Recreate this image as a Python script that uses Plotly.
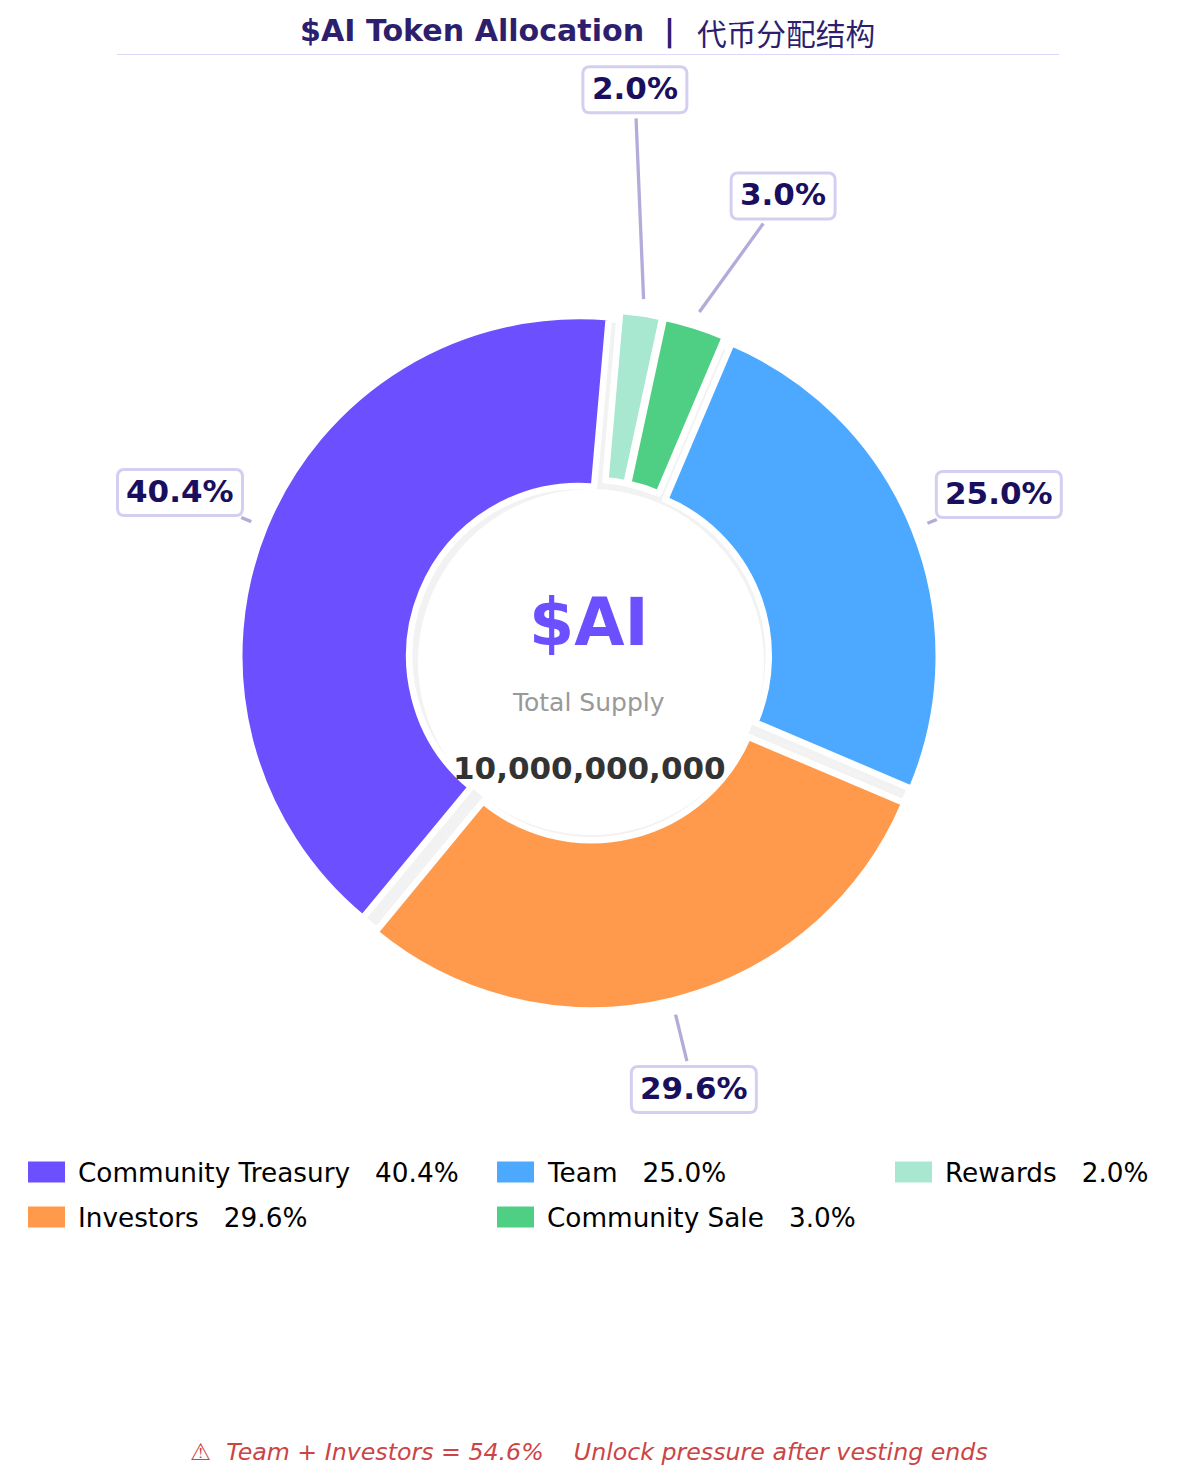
import math

import plotly.graph_objects as go

WIDTH = 1177
HEIGHT = 1483

categories = ["Community Treasury", "Investors", "Team", "Community Sale", "Rewards"]
shares = [40.4, 29.6, 25.0, 3.0, 2.0]
colors = ["#6C4FFF", "#FF9A4D", "#4DA9FF", "#4FCF83", "#A8E8D0"]
value_labels = ["40.4%", "29.6%", "25.0%", "3.0%", "2.0%"]

title_main = "$AI Token Allocation"
title_zh = "代币分配结构"
center_token = "$AI"
center_caption = "Total Supply"
center_supply = "10,000,000,000"
footer_note = "⚠  Team + Investors = 54.6%    Unlock pressure after vesting ends"

# pie geometry in pixels, the page is drawn with no margins
CX, CY = 589, 660
RADIUS = 340
EXPLODE = 0.031
START_ANGLE = 85
SHADOW_OFFSET = 2
# label distance and angle nudge per slice, small slices are pushed apart
LABEL_RADIUS = [442, 442, 442, 503, 572]
LABEL_SHIFT = [0, 0, 0, -5.1, 4.0]
# legend rows are filled column by column
LEGEND_X = [28, 28, 497, 497, 895]
LEGEND_Y = [1172, 1217, 1172, 1217, 1172]


def px(x):
    return x / WIDTH


def py(y):
    return 1 - y / HEIGHT


def pie_domain(cx, cy, radius, pull):
    half = radius * (1 + pull)
    return dict(x=[px(cx - half), px(cx + half)], y=[py(cy + half), py(cy - half)])


def text(x, y, label, size, color, bold=False, italic=False, family="DejaVu Sans"):
    return dict(
        x=px(x),
        y=py(y),
        xref="paper",
        yref="paper",
        text=label,
        showarrow=False,
        xanchor="center",
        yanchor="middle",
        font=dict(
            size=size,
            color=color,
            family=family,
            weight="bold" if bold else "normal",
            style="italic" if italic else "normal",
        ),
    )


def rounded_box(x0, y0, x1, y1, r):
    return (
        f"M {px(x0 + r)} {py(y0)} L {px(x1 - r)} {py(y0)} "
        f"Q {px(x1)} {py(y0)} {px(x1)} {py(y0 + r)} L {px(x1)} {py(y1 - r)} "
        f"Q {px(x1)} {py(y1)} {px(x1 - r)} {py(y1)} L {px(x0 + r)} {py(y1)} "
        f"Q {px(x0)} {py(y1)} {px(x0)} {py(y1 - r)} L {px(x0)} {py(y0 + r)} "
        f"Q {px(x0)} {py(y0)} {px(x0 + r)} {py(y0)} Z"
    )


total = sum(shares)
# plotly measures a counterclockwise pie from the far edge of the first slice
rotation = 90 - (START_ANGLE + shares[0] / total * 360)

fig = go.Figure()

# grey shadow ring sits under the exploded slices and shows in the gaps
fig.add_trace(
    go.Pie(
        values=shares,
        sort=False,
        direction="counterclockwise",
        rotation=rotation,
        hole=173 / RADIUS,
        domain=pie_domain(CX + SHADOW_OFFSET, CY + SHADOW_OFFSET, RADIUS, 0),
        marker=dict(colors=["#F2F2F2"] * 5, line=dict(width=0)),
        textinfo="none",
        hoverinfo="skip",
        showlegend=False,
    )
)
fig.add_trace(
    go.Pie(
        labels=categories,
        values=shares,
        sort=False,
        direction="counterclockwise",
        rotation=rotation,
        hole=0.5,
        pull=EXPLODE,
        domain=pie_domain(CX, CY, RADIUS, EXPLODE),
        marker=dict(colors=colors, line=dict(color="white", width=6.5)),
        textinfo="none",
        showlegend=False,
    )
)

shapes = []
annotations = []

# value labels with leader lines
cumulative = 0
for share, label, label_r, shift in zip(shares, value_labels, LABEL_RADIUS, LABEL_SHIFT):
    mid = math.radians(START_ANGLE + (cumulative + share / 2) / total * 360)
    cumulative += share
    lx = CX + label_r * math.cos(mid + math.radians(shift))
    ly = CY - label_r * math.sin(mid + math.radians(shift))
    sx = CX + 365 * math.cos(mid)
    sy = CY - 365 * math.sin(mid)
    half_w = 62.5 if len(label) == 5 else 52
    half_h = 23
    # the line stops a little short of the box edge
    dx, dy = lx - sx, ly - sy
    t = max(1 - half_w / abs(dx), 1 - half_h / abs(dy)) - 5.5 / math.hypot(dx, dy)
    shapes.append(
        dict(
            type="line",
            xref="paper",
            yref="paper",
            x0=px(sx),
            y0=py(sy),
            x1=px(sx + dx * t),
            y1=py(sy + dy * t),
            line=dict(color="#B3ABD9", width=3.3),
            layer="above",
        )
    )
    shapes.append(
        dict(
            type="path",
            xref="paper",
            yref="paper",
            path=rounded_box(lx - half_w, ly - half_h, lx + half_w, ly + half_h, 7),
            fillcolor="white",
            line=dict(color="#D4CFF0", width=3),
            layer="above",
        )
    )
    annotations.append(text(lx, ly - 1.5, label, 31, "#1A0F5E", bold=True))

# title block
annotations.append(text(471.5, 30.5, title_main, 30.1, "#2D1F6E", bold=True))
annotations.append(text(669, 31.5, "|", 30, "#2D1F6E", bold=True))
annotations.append(text(786, 32.5, title_zh, 29.7, "#2D1F6E", family="Noto Sans CJK SC"))
shapes.append(
    dict(
        type="line",
        xref="paper",
        yref="paper",
        x0=px(117),
        x1=px(1059),
        y0=py(54.5),
        y1=py(54.5),
        line=dict(color="#DDD8FA", width=1),
    )
)

# centre text
annotations.append(text(589, 622, center_token, 65, "#6C4FFF", bold=True))
annotations.append(text(588.5, 703, center_caption, 25, "#999999"))
annotations.append(text(589, 768, center_supply, 31, "#333333", bold=True))

# legend
for name, label, color, x, y in zip(categories, value_labels, colors, LEGEND_X, LEGEND_Y):
    shapes.append(
        dict(
            type="rect",
            xref="paper",
            yref="paper",
            x0=px(x),
            x1=px(x + 37),
            y0=py(y - 10.5),
            y1=py(y + 10.5),
            fillcolor=color,
            line=dict(width=0),
        )
    )
    entry = text(x + 48, y + 0.5, f"{name}   {label}", 26.3, "#000000")
    entry["xanchor"] = "left"
    annotations.append(entry)

annotations.append(text(589, 1452, footer_note, 23.7, "#CC4444", italic=True))

fig.update_layout(
    width=WIDTH,
    height=HEIGHT,
    margin=dict(l=0, r=0, t=0, b=0),
    paper_bgcolor="white",
    plot_bgcolor="white",
    shapes=shapes,
    annotations=annotations,
)

fig.write_html(
    "out.html",
    config={"displayModeBar": False},
    post_script="document.body.style.margin='0';",
)
